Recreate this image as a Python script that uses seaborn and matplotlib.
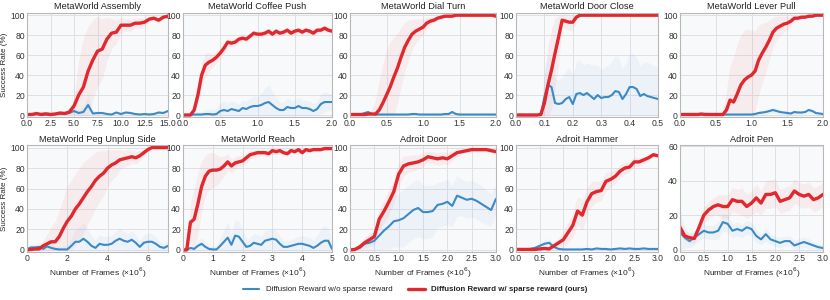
import numpy as np
import pandas as pd
import matplotlib
matplotlib.use("Agg")
import matplotlib.pyplot as plt
import seaborn as sns

# ---- data (success rate %) ----
titles = ["MetaWorld Assembly", "MetaWorld Coffee Push", "MetaWorld Dial Turn",
          "MetaWorld Door Close", "MetaWorld Lever Pull", "MetaWorld Peg Unplug Side",
          "MetaWorld Reach", "Adroit Door", "Adroit Hammer", "Adroit Pen"]

# evaluation step (x1e6 frames) for each task
steps = [0.5, 0.05, 0.05, 0.0125, 0.05, 0.2, 0.125, 0.1, 0.1, 0.1]
x_max = [15, 2, 2, 0.5, 2, 7, 5, 3, 3, 3]
x_ticks = [[0, 2.5, 5, 7.5, 10, 12.5, 15], [0, 0.5, 1, 1.5, 2], [0, 0.5, 1, 1.5, 2],
           [0, 0.1, 0.2, 0.3, 0.4, 0.5], [0, 0.5, 1, 1.5, 2], [0, 2, 4, 6],
           [0, 1, 2, 3, 4, 5], [0, 0.5, 1, 1.5, 2, 2.5, 3], [0, 0.5, 1, 1.5, 2, 2.5, 3],
           [0, 0.5, 1, 1.5, 2, 2.5, 3]]

assembly_ours = [0.5, 0.5, 1.5, 0.5, 1, 0.5, 1, 2, 1.5, 3, 9, 20, 28, 44, 55, 64, 66, 76, 82, 83,
                 90, 90, 90, 92, 92, 93, 96, 97, 95, 98, 99]
assembly_ours_sd = [0.5, 0.5, 1, 0.5, 1, 0.5, 1, 1, 1, 2, 10, 35, 50, 45, 40, 35, 30, 22, 15, 12,
                    8, 6, 6, 5, 5, 4, 3, 2, 3, 2, 1]
assembly_base = [0.5, 0.5, 1, 1, 1.5, 1, 1, 1.5, 1, 2, 4, 2, 3, 10, 1.5, 2, 2, 1, 0.5, 2.5,
                 1, 2.5, 2, 1, 0.5, 1, 0.5, 1, 2.5, 2, 4]
assembly_base_sd = [1, 1, 1.5, 2, 2, 1.5, 1.5, 2, 1.5, 2, 3, 3, 6, 10, 3, 2, 2, 1.5, 1.5, 2,
                    1.5, 2, 2, 1.5, 1, 1.5, 1, 1.5, 2, 2, 2]

coffee_ours = [0, 0, 0, 5, 20, 40, 50, 53, 55, 58, 62, 67, 73, 72, 73, 76, 77, 76, 79, 82, 81,
               81, 82, 84, 81, 84, 82, 83, 85, 82, 84, 85, 83, 85, 84, 82, 85, 85, 87, 85, 84]
coffee_ours_sd = [0, 0, 0, 3, 8, 12, 12, 9, 7, 6, 5, 5, 4, 4, 4, 3, 3, 3, 3, 3, 3,
                  3, 3, 3, 3, 3, 3, 3, 3, 3, 3, 3, 3, 3, 3, 3, 3, 3, 3, 3, 3]
coffee_base = [0, 0, 0, 0.5, 0.5, 0.5, 1, 1, 0.5, 1, 4, 5, 4, 6, 5, 4, 7, 6, 8, 9, 9,
               10, 12, 13, 10, 7, 5, 5, 8, 7, 7, 9, 7, 7, 6, 4, 6, 11, 13, 13, 13]
coffee_base_sd = [1, 1, 1, 2, 3, 3, 4, 5, 5, 6, 8, 9, 8, 8, 8, 7, 8, 8, 9, 10, 10,
                  12, 15, 17, 14, 10, 8, 8, 9, 8, 8, 9, 8, 8, 8, 7, 8, 10, 10, 9, 8]

dial_ours = [0.5, 0.5, 0.5, 0.5, 0.5, 1, 1, 1, 5, 12, 20, 28, 38, 47, 58, 68, 75, 81, 84, 86, 88,
             92, 94, 95, 97, 98, 99, 99, 99, 100, 100, 100, 100, 100, 100, 100, 100, 100, 100, 100, 99]
dial_ours_sd = [0, 0, 0, 0, 0, 1, 5, 15, 30, 40, 45, 45, 40, 35, 30, 25, 20, 15, 12, 10, 8,
                6, 4, 3, 2, 2, 1, 1, 1, 0.5, 0.5, 0.5, 0.5, 0.5, 0.5, 0.5, 0.5, 0.5, 0.5, 0.5, 0.5]
dial_base = [0.5, 0.5, 0.5, 0.5, 2, 3, 1, 0.5, 0.5, 0.5, 0.5, 0.5, 0.5, 0.5, 0.5, 0.5, 0.5, 1, 1, 0.5, 0.5,
             0.5, 0.5, 0.5, 0.5, 0.5, 1, 1, 3, 1, 0.5, 0.5, 0.5, 0.5, 0.5, 0.5, 0.5, 0.5, 0.5, 0.5, 0.5]
dial_base_sd = [1] * 41

door_close_ours = [0, 0, 0, 0, 0, 0, 0, 0.5, 12, 30, 45, 62, 78, 95, 94, 93, 93, 98, 100] + [100] * 22
door_close_ours_sd = [0, 0, 0, 0, 0, 0, 0, 2, 25, 40, 40, 35, 25, 8, 8, 8, 8, 3, 1] + [0.5] * 22
door_close_base = [0, 0, 0, 0, 0, 0, 0, 0, 18, 30, 28, 12, 11, 12, 16, 18, 11, 21, 22, 20, 22,
                   19, 16, 20, 17, 18, 18, 20, 24, 23, 16, 21, 28, 28, 26, 19, 21, 19, 18, 17, 16]
door_close_base_sd = [0, 0, 0, 0, 0, 0, 0, 1, 30, 30, 28, 25, 24, 26, 28, 30, 28, 32, 33, 30, 30,
                      32, 34, 30, 28, 30, 32, 34, 36, 34, 30, 32, 34, 33, 32, 30, 32, 34, 33, 32, 32]

lever_ours = [0.5, 0.5, 0.5, 0.5, 0.5, 0.5, 1, 0.5, 0.5, 0.5, 0.5, 0.5, 0.5, 5, 15, 13, 21, 30, 35, 38,
              40, 44, 55, 62, 68, 75, 83, 87, 89, 91, 92, 94, 97, 97, 98, 98, 99, 99, 100, 100, 100]
lever_ours_sd = [0, 0, 0, 0, 0, 0, 0, 0, 0, 0, 0, 1, 3, 20, 35, 45, 50, 50, 50, 48,
                 45, 40, 35, 30, 25, 20, 15, 12, 10, 8, 7, 5, 3, 2, 2, 1, 1, 1, 0.5, 0.5, 0.5]
lever_base = [0.5, 0.5, 0.5, 0.5, 0.5, 0.5, 1, 1, 1, 0.5, 0.5, 0.5, 0.5, 0.5, 0.5, 0.5, 0.5, 0.5, 0.5, 0.5,
              0.5, 1, 2, 2.5, 3, 4, 5, 4, 3, 2.5, 2, 1.5, 3, 2.5, 2.5, 3, 5, 4, 2, 1.5, 1]
lever_base_sd = [1, 1, 1, 1.5, 1.5, 2, 2, 2, 2, 1.5, 1, 1, 1, 1, 1, 1, 1, 1, 1, 1,
                 1, 1.5, 2, 2, 2.5, 2.5, 3, 3, 2.5, 2, 2, 2, 2, 2, 2, 2, 2.5, 2.5, 2, 1.5, 1.5]

peg_ours = [0, 0.5, 1, 1, 4, 6, 8, 8, 13, 21, 28, 33, 40, 45, 51, 57, 62, 68, 72, 75,
            80, 83, 85, 88, 89, 90, 91, 90, 92, 95, 98, 100, 100, 100, 100, 100]
peg_ours_sd = [0, 1, 1, 2, 5, 10, 15, 20, 25, 30, 35, 35, 35, 35, 35, 32, 30, 28, 25, 22,
               18, 15, 13, 10, 8, 8, 6, 6, 5, 3, 2, 1, 0.5, 0.5, 0.5, 0.5]
peg_base = [1, 2.5, 2.5, 3, 1, 3.5, 2, 1, 0.5, 0.5, 0.5, 4, 8, 8, 11, 8, 4, 2, 6, 5,
            5, 6, 9, 11, 9, 8, 10, 7, 3, 7, 8, 8, 6, 3, 2, 4]
peg_base_sd = [2, 3, 3, 4, 3, 5, 4, 3, 3, 3, 4, 8, 12, 14, 16, 13, 10, 8, 9, 8,
               8, 8, 9, 10, 9, 8, 9, 8, 6, 8, 8, 8, 7, 5, 4, 5]

reach_ours = [0, 0, 27, 30, 45, 62, 72, 77, 78, 78, 79, 82, 86, 82, 85, 86, 87, 90, 93, 94, 95,
              95, 95, 94, 97, 96, 97, 95, 94, 97, 96, 98, 95, 98, 97, 98, 98, 98, 99, 99, 99]
reach_ours_sd = [0, 1, 20, 30, 30, 25, 20, 18, 17, 15, 12, 10, 8, 7, 6, 6, 5, 5, 4, 4, 3,
                 3, 3, 3, 3, 3, 3, 3, 3, 2, 2, 2, 2, 2, 2, 2, 2, 2, 1, 1, 1]
reach_base = [0, 0, 2, 1, 4, 6, 3, 1, 0.5, 0.5, 4, 8, 12, 5, 14, 13, 8, 3, 4, 7, 6,
              5, 9, 10, 11, 10, 6, 3, 3, 4, 5, 6, 6, 5, 4, 2, 4, 7, 9, 9, 1]
reach_base_sd = [1, 1, 3, 3, 5, 6, 5, 4, 3, 4, 8, 12, 15, 12, 16, 15, 12, 8, 8, 9, 9,
                 8, 10, 10, 10, 9, 8, 6, 6, 6, 7, 7, 8, 8, 8, 8, 10, 14, 15, 12, 6]

adroit_door_ours = [0, 0.5, 3, 7, 10, 13, 30, 38, 47, 57, 74, 82, 84, 85, 86, 88, 91, 90, 89, 90,
                    89, 92, 95, 96, 97, 98, 98, 98, 98, 97, 96]
adroit_door_ours_sd = [0, 1, 3, 5, 6, 8, 10, 12, 12, 12, 12, 10, 8, 8, 7, 7, 6, 6, 6, 6,
                       6, 5, 4, 3, 2, 2, 2, 2, 2, 2, 2]
adroit_door_base = [0, 0.5, 2, 6, 7, 9, 14, 19, 23, 28, 29, 31, 35, 39, 41, 37, 37, 38, 44, 45,
                    47, 43, 53, 51, 49, 50, 48, 45, 42, 39, 50]
adroit_door_base_sd = [0, 1, 3, 6, 8, 10, 15, 18, 22, 25, 26, 28, 28, 28, 28, 26, 26, 25, 22, 22,
                       22, 20, 20, 18, 18, 18, 18, 18, 17, 16, 14]

hammer_ours = [0.5, 0.5, 0.5, 0.5, 0.5, 1, 1.5, 1, 4, 7, 10, 17, 24, 38, 34, 47, 55, 57, 58, 67,
               69, 72, 77, 80, 81, 86, 86, 88, 90, 93, 92]
hammer_ours_sd = [0, 0, 0, 0, 0, 1, 1, 1, 3, 5, 8, 10, 12, 14, 15, 14, 12, 10, 10, 9,
                  8, 7, 6, 6, 5, 5, 4, 3, 3, 2, 2]
hammer_base = [0.5, 0.5, 0.5, 1, 2, 4, 6, 7, 3, 1, 0.5, 0.5, 0.5, 0.5, 0.5, 1, 0.5, 1.5, 1, 1,
               0.5, 1, 1.5, 1, 1.5, 1, 1, 1.5, 1, 1, 1]
hammer_base_sd = [0.5, 0.5, 1, 1.5, 2, 3, 4, 4, 3, 1.5, 1, 1, 1, 1, 1, 1, 1, 1, 1, 1,
                  1, 1, 1, 1, 1, 1, 1, 1, 1, 1, 1]

pen_ours = [13, 8, 7, 6.5, 13, 20, 23, 25, 26, 25, 25, 29, 28, 28, 25, 27, 30, 27, 32, 32,
            33, 28, 29, 30, 34, 32, 31, 32, 29, 30, 32]
pen_ours_sd = [4, 3, 3, 3, 4, 5, 5, 5, 6, 7, 7, 7, 7, 8, 7, 7, 8, 7, 8, 8,
               8, 7, 7, 7, 7, 7, 7, 7, 7, 7, 7]
pen_base = [10, 7, 5, 7, 9, 11, 10, 10, 11, 16, 15, 11, 12, 11, 13, 12, 8, 6, 9, 6,
            5, 4, 5, 5, 2.5, 3.5, 4.5, 3.5, 2.5, 1.5, 1]
pen_base_sd = [12, 6, 4, 4, 4, 4, 4, 4, 5, 5, 5, 4, 4, 4, 4, 4, 4, 3, 4, 3,
               3, 3, 3, 3, 3, 3, 3, 3, 2, 2, 2]

ours = [assembly_ours, coffee_ours, dial_ours, door_close_ours, lever_ours,
        peg_ours, reach_ours, adroit_door_ours, hammer_ours, pen_ours]
ours_sd = [assembly_ours_sd, coffee_ours_sd, dial_ours_sd, door_close_ours_sd, lever_ours_sd,
           peg_ours_sd, reach_ours_sd, adroit_door_ours_sd, hammer_ours_sd, pen_ours_sd]
base = [assembly_base, coffee_base, dial_base, door_close_base, lever_base,
        peg_base, reach_base, adroit_door_base, hammer_base, pen_base]
base_sd = [assembly_base_sd, coffee_base_sd, dial_base_sd, door_close_base_sd, lever_base_sd,
           peg_base_sd, reach_base_sd, adroit_door_base_sd, hammer_base_sd, pen_base_sd]

label_base = "Diffusion Reward w/o sparse reward"
label_ours = "Diffusion Reward w/ sparse reward (ours)"
c_base = "#3a8ac8"
c_ours = "#e0282e"

sns.set_theme(style="whitegrid")
plt.rcParams["font.family"] = ["Liberation Sans", "DejaVu Sans"]
plt.rcParams["axes.facecolor"] = "#f8f9fb"
plt.rcParams["axes.edgecolor"] = "#b8b8b8"
plt.rcParams["grid.color"] = "#e0e0e4"
plt.rcParams["grid.linewidth"] = 0.7
plt.rcParams["text.color"] = "#222222"
plt.rcParams["xtick.color"] = "#333333"
plt.rcParams["ytick.color"] = "#333333"

W, H = 830, 300
fig = plt.figure(figsize=(W / 100, H / 100), dpi=100)

# panel boxes in pixels (left, right) per column, (top, bottom) per row
col_lr = [(27, 168), (183, 332), (350, 496), (516, 658), (680, 823)]
row_tb = [(12.7, 117), (145, 252)]

axes = []
for r in range(2):
    for c in range(5):
        l, rr = col_lr[c]
        t, b = row_tb[r]
        axes.append(fig.add_axes([l / W, 1 - b / H, (rr - l) / W, (b - t) / H]))

for i, ax in enumerate(axes):
    n = len(ours[i])
    x = np.arange(n) * steps[i]
    df = pd.DataFrame({
        "frames": np.concatenate([x, x]),
        "success": np.concatenate([base[i], ours[i]]),
        "method": [label_base] * n + [label_ours] * n,
    })
    for vals, sd, col in [(base[i], base_sd[i], c_base), (ours[i], ours_sd[i], c_ours)]:
        v = np.array(vals, dtype=float)
        s = np.array(sd, dtype=float)
        ax.fill_between(x, np.clip(v - s, 0, 100), np.clip(v + s, 0, 100),
                        color=col, alpha=0.06, linewidth=0)
    sns.lineplot(data=df, x="frames", y="success", hue="method",
                 palette={label_base: c_base, label_ours: c_ours},
                 size="method", sizes={label_base: 1.5, label_ours: 2.4},
                 ax=ax, legend=False)
    ax.set_title(titles[i], fontsize=6.7, pad=2.5)
    ax.set_xlim(0, x_max[i])
    ax.set_xticks(x_ticks[i])
    if i == 9:
        ax.set_ylim(-1.3, 60.6)
        ax.set_yticks([0, 20, 40, 60])
    else:
        ax.set_ylim(-2, 102.5)
        ax.set_yticks([0, 20, 40, 60, 80, 100])
    ax.tick_params(axis="both", labelsize=6.2, pad=1.5, length=0)
    ax.set_xlabel("Number of Frames (×10$^6$)" if i >= 5 else "", fontsize=6.0, labelpad=2)
    ax.set_ylabel("Success Rate (%)" if i % 5 == 0 else "", fontsize=5.8, labelpad=1.5)
    for sp in ax.spines.values():
        sp.set_linewidth(0.8)

h1 = plt.Line2D([], [], color=c_base, lw=1.5)
h2 = plt.Line2D([], [], color=c_ours, lw=2.4)
leg = fig.legend([h1, h2], [label_base, label_ours], loc="center", ncol=2,
                 bbox_to_anchor=(0.5, 0.035), frameon=False, fontsize=5.7,
                 handlelength=2.1, columnspacing=2.0)
leg.get_texts()[1].set_fontweight("bold")

fig.savefig("out.png", dpi=100)
